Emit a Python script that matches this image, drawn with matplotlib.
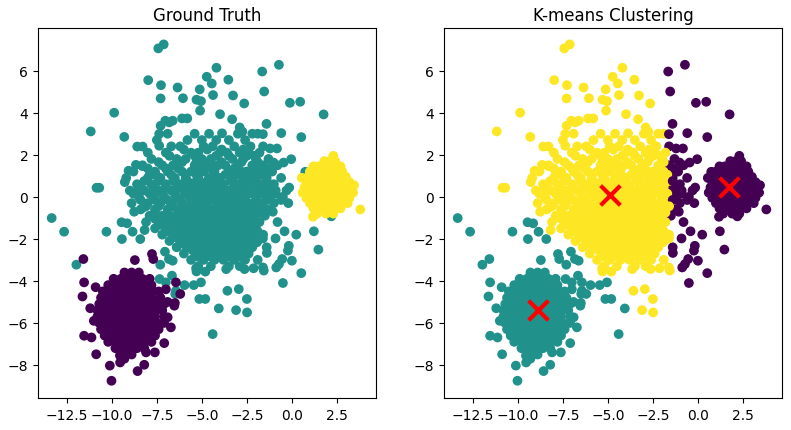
import numpy as np
import matplotlib
matplotlib.use("Agg")
import matplotlib.pyplot as plt

# ---------------- data ----------------
# dense cores, given as rows: (y, [x values])
teal_core_rows = [
    (3.0, [-6.9, -5.4, -4.6, -3.0, -2.2, -1.9]),
    (2.7, [-7.5, -5.8, -5.0, -4.2, -3.5, -2.6]),
    (2.4, [-6.7, -6.2, -4.9, -4.4, -3.2, -2.3, -1.6]),
    (2.1, [-8.0, -7.0, -5.6, -5.2, -4.0, -3.6, -2.9, -2.4, -1.8]),
    (1.8, [-7.8, -6.4, -5.9, -5.0, -4.5, -3.3, -2.7, -2.0, -1.3]),
    (1.5, [-8.3, -7.2, -6.6, -5.4, -4.8, -4.1, -3.7, -3.0, -2.2, -1.6, -0.8]),
    (1.2, [-8.8, -7.6, -6.9, -6.1, -5.6, -4.9, -4.3, -3.5, -2.8, -2.5, -1.9, -1.1]),
    (0.9, [-9.2, -8.0, -7.3, -6.5, -5.9, -5.2, -4.6, -4.0, -3.3, -2.6, -2.1, -1.4, -0.6]),
    (0.6, [-8.6, -7.8, -7.0, -6.2, -5.5, -5.0, -4.4, -3.8, -3.0, -2.4, -1.7, -1.0]),
    (0.3, [-9.0, -8.2, -7.4, -6.7, -6.0, -5.3, -4.8, -4.2, -3.5, -2.9, -2.2, -1.5, -0.9, -0.3]),
    (0.0, [-8.5, -7.7, -7.1, -6.4, -5.7, -5.1, -4.5, -3.9, -3.3, -2.7, -2.0, -1.2, -0.5]),
    (-0.3, [-8.9, -8.0, -7.3, -6.7, -6.1, -5.4, -4.8, -4.1, -3.6, -3.0, -2.4, -1.7, -1.0, -0.2]),
    (-0.6, [-8.4, -7.6, -6.9, -6.3, -5.6, -5.0, -4.4, -3.8, -3.2, -2.6, -1.9, -1.3]),
    (-0.9, [-7.9, -7.2, -6.5, -5.9, -5.2, -4.6, -4.0, -3.4, -2.8, -2.2, -1.5]),
    (-1.2, [-8.1, -7.4, -6.8, -6.1, -5.5, -4.9, -4.2, -3.6, -3.0, -2.5, -1.8, -0.8]),
    (-1.5, [-7.6, -7.0, -6.3, -5.7, -5.1, -4.4, -3.8, -3.2, -2.7, -2.0]),
    (-1.8, [-7.2, -6.6, -6.0, -5.3, -4.7, -4.1, -3.5, -2.9, -2.3, -1.6]),
    (-2.1, [-6.8, -6.2, -5.5, -4.9, -4.3, -3.7, -3.1, -2.6, -1.9]),
    (-2.4, [-6.4, -5.8, -5.1, -4.5, -3.9, -3.3, -2.8, -2.2, -1.4]),
    (-2.7, [-6.0, -5.3, -4.8, -4.1, -3.6, -3.0, -2.4]),
    (-3.0, [-5.6, -4.9, -4.3, -3.8, -3.2, -2.6, -1.9]),
    (-3.3, [-5.2, -4.5, -3.5, -2.9]),
]

# further teal points in the crowded middle (between the rows above)
teal_fill_rows = [
    (2.25, [-6.0, -4.7, -3.9, -2.7]),
    (1.95, [-6.8, -5.4, -4.2, -3.5, -2.5]),
    (1.65, [-7.4, -6.1, -5.3, -4.5, -3.9, -2.8, -1.9]),
    (1.35, [-8.0, -7.0, -6.3, -5.1, -4.5, -3.2, -2.2, -1.4]),
    (1.05, [-7.9, -6.7, -5.9, -5.3, -4.3, -3.7, -3.0, -2.3, -1.7]),
    (0.75, [-8.2, -7.4, -6.6, -5.8, -5.3, -4.7, -4.1, -3.4, -2.7, -2.0, -1.4]),
    (0.45, [-8.5, -7.7, -7.0, -6.4, -5.7, -5.1, -4.5, -3.9, -3.2, -2.6, -1.9, -1.2]),
    (0.15, [-8.8, -7.9, -7.2, -6.5, -5.9, -5.4, -4.7, -4.1, -3.6, -3.0, -2.4, -1.7, -0.9]),
    (-0.15, [-8.4, -7.6, -6.9, -6.2, -5.6, -5.0, -4.4, -3.8, -3.2, -2.6, -2.0, -1.4, -0.6]),
    (-0.45, [-8.1, -7.4, -6.6, -5.9, -5.3, -4.7, -4.1, -3.5, -2.9, -2.2, -1.6]),
    (-0.75, [-7.6, -6.9, -6.2, -5.5, -4.9, -4.3, -3.7, -3.1, -2.5, -1.8]),
    (-1.05, [-7.6, -6.9, -6.3, -5.7, -5.1, -4.5, -3.9, -3.3, -2.7, -2.1]),
    (-1.35, [-7.2, -6.6, -6.0, -5.4, -4.7, -4.1, -3.5, -2.9, -2.3]),
    (-1.65, [-6.9, -6.3, -5.6, -5.0, -4.4, -3.8, -3.2, -2.6, -1.9]),
    (-1.95, [-6.4, -5.8, -5.2, -4.6, -4.0, -3.4, -2.8, -2.2]),
    (-2.25, [-6.0, -5.3, -4.7, -4.0, -3.5, -2.9, -2.4]),
    (-2.55, [-5.5, -4.9, -4.3, -3.7, -3.1, -2.6]),
    (-2.85, [-5.2, -4.5, -3.4, -2.8]),
]

teal_outliers = [
    (-7.42, 7.06), (-7.12, 7.25), (-0.72, 6.28), (-4.19, 6.14), (-1.65, 5.96),
    (-7.98, 5.55), (-7.27, 5.31), (-6.35, 5.20), (-4.73, 5.71), (-4.45, 5.39),
    (-5.12, 5.11), (-3.53, 5.57), (-1.54, 5.01), (-7.29, 4.68), (-6.05, 4.69),
    (-4.38, 4.84), (-3.27, 4.82), (-2.65, 4.44), (-0.11, 4.47), (0.46, 4.52),
    (1.76, 3.92), (-9.87, 4.00), (-11.17, 3.11), (-9.31, 2.85), (0.52, 2.84),
    (-0.59, 3.03), (-1.41, 3.47), (-1.61, 2.98), (-8.59, 2.39), (-8.29, 2.39),
    (-7.37, 2.43), (-10.85, 0.43), (-10.70, 0.43), (-9.28, 0.70), (0.74, 1.19),
    (-0.15, 0.44), (-0.04, 1.79), (-0.46, 1.63), (-1.02, 1.63), (-2.08, 1.95),
    (-1.21, 2.30), (-0.83, 2.30), (-5.10, 4.10), (-5.05, 4.55), (-5.30, 4.62),
    (-3.99, 3.93), (-3.32, 3.69), (-2.90, 3.30), (-2.75, 3.10), (-3.88, 3.02),
    (-7.37, 2.99), (-7.29, 3.38), (-7.03, 3.62), (-6.81, 3.54), (-6.62, 3.62),
    (-6.10, 3.73), (-5.81, 3.73), (-8.66, 1.52), (-8.30, 1.46), (-7.51, 1.00),
    (-9.07, 1.24), (-13.34, -1.01), (-12.65, -1.66), (-10.30, -1.66),
    (-11.97, -3.23), (-9.44, -2.01), (-9.46, -1.21), (-9.15, -1.26),
    (-8.76, -0.71), (-8.24, -0.50), (-8.85, -1.66), (-8.18, -1.58),
    (-8.42, -2.01), (-7.31, -3.23), (-7.35, -3.91), (-7.00, -4.07),
    (-6.66, -3.75), (-6.44, -4.47), (-6.48, -4.62), (-7.05, -2.61),
    (-6.83, -2.96), (-6.62, -3.04), (-5.96, -4.20), (-5.45, -4.20),
    (-5.05, -4.07), (-5.14, -4.86), (-4.81, -4.86), (-4.06, -5.31),
    (-3.58, -4.47), (-2.95, -4.39), (-3.10, -5.39), (-2.50, -4.86),
    (-2.49, -5.50), (-4.40, -6.53), (-5.32, -3.40), (-5.30, -3.55),
    (-4.81, -3.56), (-3.65, -3.44), (-2.63, -3.44), (-2.13, -3.40),
    (-1.61, -3.36), (-1.56, -3.51), (-0.87, -3.36), (-0.72, -3.20),
    (-0.54, -2.96), (-0.50, -4.10), (0.52, -3.63), (0.00, -3.04),
    (-0.22, -2.56), (-0.17, -2.33), (0.24, -1.80), (-0.41, -1.64),
    (-0.91, -1.98), (-1.06, -0.71), (1.22, -1.64), (1.47, -2.51),
    (2.19, -0.93), (-1.39, -2.67), (-1.95, -2.17), (-1.61, -1.98),
    (-2.36, -1.26), (-2.95, -1.45),
]

purple_core_rows = [
    (-3.6, [-9.3, -8.9, -8.5]),
    (-3.9, [-9.9, -9.5, -9.1, -8.7, -8.3, -7.9]),
    (-4.2, [-10.2, -9.8, -9.4, -9.0, -8.6, -8.2, -7.8]),
    (-4.5, [-10.5, -10.1, -9.7, -9.3, -8.9, -8.5, -8.1, -7.7, -7.4]),
    (-4.8, [-10.6, -10.2, -9.8, -9.4, -9.0, -8.6, -8.2, -7.8, -7.3]),
    (-5.1, [-10.7, -10.3, -9.9, -9.5, -9.1, -8.7, -8.3, -7.9, -7.5, -7.1]),
    (-5.4, [-10.8, -10.4, -10.0, -9.6, -9.2, -8.8, -8.4, -8.0, -7.6, -7.2]),
    (-5.7, [-10.8, -10.4, -10.0, -9.6, -9.2, -8.8, -8.4, -8.0, -7.6, -7.1]),
    (-6.0, [-10.7, -10.3, -9.9, -9.5, -9.1, -8.7, -8.3, -7.9, -7.5, -7.1]),
    (-6.3, [-10.6, -10.2, -9.8, -9.4, -9.0, -8.6, -8.2, -7.8, -7.4]),
    (-6.6, [-10.4, -10.0, -9.6, -9.2, -8.8, -8.4, -8.0, -7.6]),
    (-6.9, [-10.2, -9.8, -9.4, -9.0, -8.6, -8.2, -7.8]),
    (-7.2, [-9.8, -9.4, -9.0, -8.6, -8.2]),
    (-7.5, [-9.3, -8.9]),
]

purple_outliers = [
    (-10.02, -8.75), (-10.11, -8.03), (-9.54, -7.88), (-8.57, -8.29),
    (-8.20, -7.99), (-10.87, -7.49), (-9.30, -7.70), (-9.55, -7.55),
    (-11.58, -2.96), (-7.77, -2.72), (-7.70, -2.96), (-8.72, -3.01),
    (-11.63, -4.74), (-11.54, -4.07), (-11.54, -6.61), (-11.13, -6.69),
    (-6.20, -4.62), (-6.44, -4.07), (-6.53, -5.18), (-6.50, -5.05),
    (-6.72, -6.21), (-6.90, -5.73), (-7.09, -6.96), (-7.61, -7.40),
    (-8.10, -7.40), (-11.00, -5.90), (-11.20, -5.30), (-10.90, -4.30),
    (-7.00, -4.40), (-6.90, -5.00),
]

yellow_core_rows = [
    (1.95, [2.3]),
    (1.7, [1.8, 2.1, 2.4]),
    (1.45, [1.2, 1.5, 1.8, 2.1, 2.4, 2.7]),
    (1.2, [1.0, 1.3, 1.6, 1.9, 2.2, 2.5, 2.8]),
    (0.95, [0.9, 1.2, 1.5, 1.8, 2.1, 2.4, 2.7, 3.0]),
    (0.7, [0.8, 1.1, 1.4, 1.7, 2.0, 2.3, 2.6, 2.9, 3.2]),
    (0.45, [0.7, 1.0, 1.3, 1.6, 1.9, 2.2, 2.5, 2.8, 3.1]),
    (0.2, [0.6, 0.9, 1.2, 1.5, 1.8, 2.1, 2.4, 2.7, 3.0, 3.4]),
    (-0.05, [0.8, 1.1, 1.4, 1.7, 2.0, 2.3, 2.6, 2.9, 3.2]),
    (-0.3, [1.0, 1.3, 1.6, 1.9, 2.2, 2.5, 2.8, 3.1]),
    (-0.55, [1.2, 1.5, 1.8, 2.1, 2.4, 2.7]),
    (-0.8, [1.4, 1.9, 2.3]),
]

yellow_outliers = [(3.80, -0.60), (1.17, -0.95), (0.55, 0.90), (3.45, 0.55)]

# K-means cluster centres (label order 0, 1, 2)
centers_x = [1.7, -8.9, -4.9]
centers_y = [0.45, -5.4, 0.1]


def expand(rows, extra):
    pts = [(x, y) for y, xs in rows for x in xs] + list(extra)
    return np.array(pts, dtype=float)


teal = np.vstack([expand(teal_core_rows, teal_outliers), expand(teal_fill_rows, [])])
purple = expand(purple_core_rows, purple_outliers)
yellow = expand(yellow_core_rows, yellow_outliers)

X = np.vstack([teal, purple, yellow])
y_true = np.concatenate([np.full(len(teal), 1), np.full(len(purple), 0),
                         np.full(len(yellow), 2)])

centers = np.column_stack([centers_x, centers_y])
d = ((X[:, None, :] - centers[None, :, :]) ** 2).sum(axis=2)
y_km = d.argmin(axis=1)

# ---------------- plot ----------------
fig = plt.figure(figsize=(7.91, 4.31), dpi=100)
ax1 = fig.add_axes([38 / 791, 32 / 431, 338 / 791, 370 / 431])
ax2 = fig.add_axes([444 / 791, 32 / 431, 338 / 791, 370 / 431])

ax1.scatter(X[:, 0], X[:, 1], c=y_true, cmap="viridis", s=36, vmin=0, vmax=2)
ax1.set_title("Ground Truth")

ax2.scatter(X[:, 0], X[:, 1], c=y_km, cmap="viridis", s=36, vmin=0, vmax=2)
ax2.scatter(centers_x, centers_y, marker="x", s=200, linewidths=3, color="red")
ax2.set_title("K-means Clustering")

ticks_x = [-12.5, -10.0, -7.5, -5.0, -2.5, 0.0, 2.5]
ticks_y = [-8, -6, -4, -2, 0, 2, 4, 6]
for ax in (ax1, ax2):
    ax.set_xlim(-14.1, 4.67)
    ax.set_ylim(-9.57, 8.03)
    ax.set_xticks(ticks_x)
    ax.set_yticks(ticks_y)

fig.savefig("out.png", dpi=100)
